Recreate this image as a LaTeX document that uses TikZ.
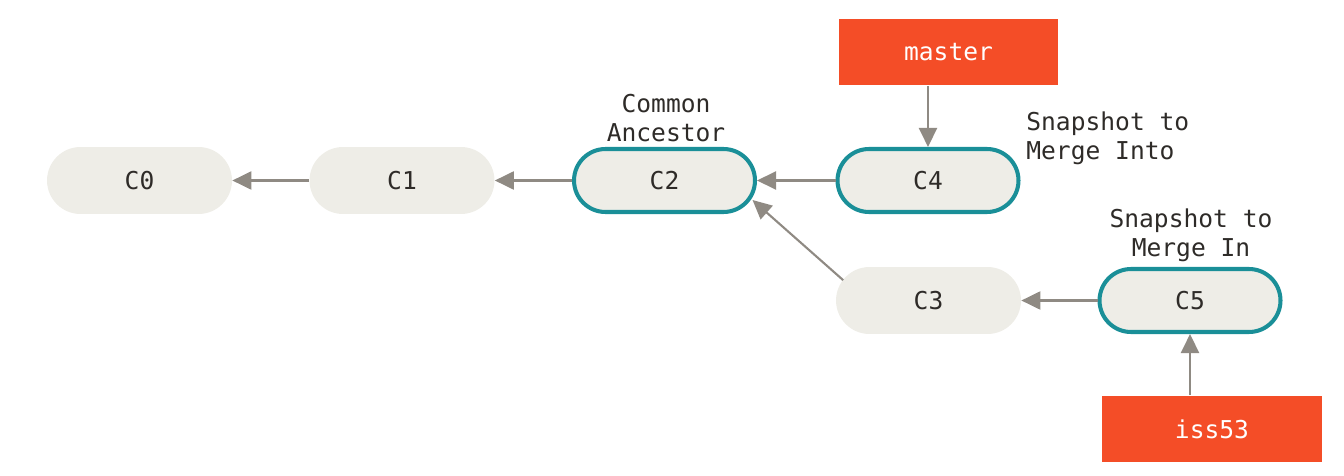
\documentclass[tikz,border=0pt]{standalone}
\usepackage{fontspec}
\setmonofont{DejaVu Sans Mono}
\usetikzlibrary{arrows.meta}
\definecolor{commitfill}{HTML}{EEEDE7}
\definecolor{commitline}{HTML}{1A8F98}
\definecolor{branchred}{HTML}{F44D27}
\definecolor{arrowgrey}{HTML}{8F8A83}
\definecolor{textdark}{HTML}{2E2B28}
\newcommand\commitw{3.7cm}
\newcommand\commith{1.34cm}

\begin{document}
\begin{tikzpicture}[x=0.02cm, y=-0.02cm,
    font=\ttfamily\fontsize{14}{16.5}\selectfont, text=textdark,
    commit/.style={fill=commitfill, rounded corners=0.67cm, minimum width=\commitw, minimum height=\commith, inner sep=0pt},
    tip/.style={commit, draw=commitline, line width=2.3pt, rounded corners=0.63cm, minimum width=3.62cm, minimum height=1.26cm},
    branch/.style={fill=branchred, text=white, minimum width=4.4cm, minimum height=\commith, inner sep=0pt},
    arr/.style={-{Triangle[length=0.38cm, width=0.36cm]}, draw=arrowgrey, line width=1.2pt},
    note/.style={align=center, inner sep=0pt}]

    \useasboundingbox (0,0) rectangle (1344,476);

    % commits
    \node at (139.5, 180.5) [commit] (c0) {C0};
    \node at (402, 180.5) [commit] (c1) {C1};
    \node at (664.5, 180.5) [tip] (c2) {C2};
    \node at (928, 180.5) [tip] (c4) {C4};
    \node at (928.5, 300.5) [commit] (c3) {C3};
    \node at (1190, 300.5) [tip] (c5) {C5};

    % branches
    \node at (948.5, 52) [branch] (master) {master};
    \node at (1212, 429) [branch] (iss53) {iss53};

    % notes
    \node at (666, 118) [note] (ancestor) {Common\\Ancestor};
    \node at (1026, 138) [note, anchor=west, align=left] (into) {Snapshot to\\Merge Into};
    \node at (1191, 235) [note] (in) {Snapshot to\\Merge In};

    \draw[arr] (c1.west) -- (c0.east);
    \draw[arr] (c2.west) -- (c1.east);
    \draw[arr] (c4.west) -- (c2.east);
    \draw[arr] (c5.west) -- (c3.east);
    \draw[arr] ([shift={(7.5,13.5)}]c3.north west) -- ([shift={(-4.5,-14)}]c2.south east);

    \draw[arr] (master.south -| c4.north) -- (c4.north);
    \draw[arr] (iss53.north -| c5.south) -- (c5.south);
\end{tikzpicture}
\end{document}
